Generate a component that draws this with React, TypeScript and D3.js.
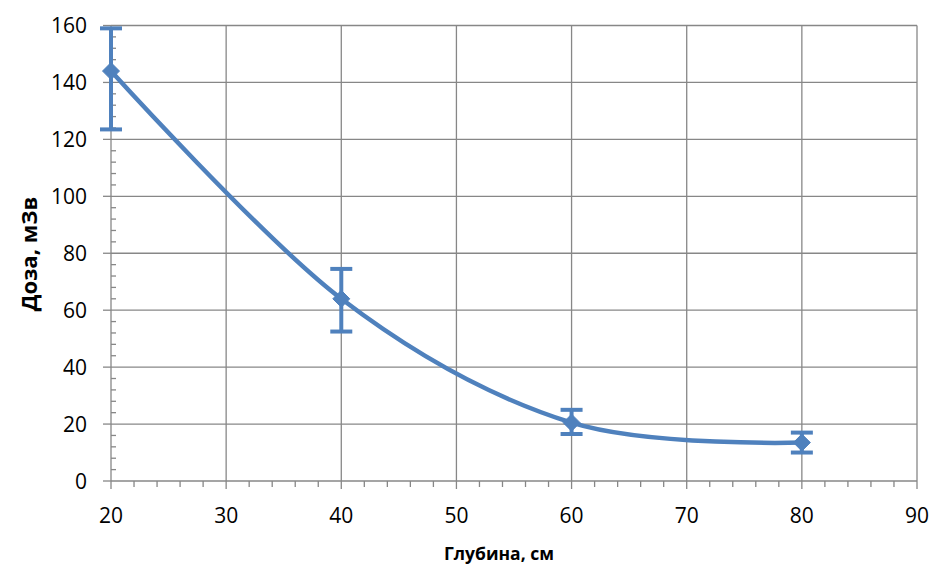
import React from "react";
import * as d3 from "d3";

const depth = [20, 40, 60, 80];
const dose = [144, 64, 20.5, 13.5];
const errLow = [123.5, 52.5, 16.5, 10];
const errHigh = [159, 74.5, 25, 17];
const xTicks = [20, 30, 40, 50, 60, 70, 80, 90];
const yTicks = [0, 20, 40, 60, 80, 100, 120, 140, 160];
const xTitle = "Глубина, см";
const yTitle = "Доза, мЗв";

const W = 934;
const H = 567;
const left = 111;
const right = 917;
const top = 25.5;
const bottom = 481;
const BLUE = "#4F81BD";
const GRID = "#878787";
const FONT = "'Open Sans', 'Liberation Sans', sans-serif";

export default function App() {
  const x = d3.scaleLinear().domain([20, 90]).range([left, right]);
  const y = d3.scaleLinear().domain([0, 160]).range([bottom, top]);

  const pts = depth.map((d, i) => [d, dose[i]] as [number, number]);
  const line = d3
    .line<[number, number]>()
    .x((d) => x(d[0]))
    .y((d) => y(d[1]))
    .curve(d3.curveCardinal.tension(0));

  const xMinor = d3.range(20, 90.01, 2).filter((v) => Math.round(v) % 10 !== 0);
  const yMinor = d3.range(0, 160.01, 4).filter((v) => Math.round(v) % 20 !== 0);

  const diamond = (cx: number, cy: number, r: number) =>
    `M${cx},${cy - r}L${cx + r},${cy}L${cx},${cy + r}L${cx - r},${cy}Z`;

  return (
    <svg
      width={W}
      height={H}
      style={{ position: "absolute", left: 0, top: 0, background: "#fff" }}
    >
      <rect x={0} y={0} width={W} height={H} fill="#fff" />
      {yTicks.map((t) => (
        <line key={"gy" + t} x1={left} x2={right} y1={y(t)} y2={y(t)} stroke={GRID} strokeWidth={1.3} />
      ))}
      {xTicks.map((t) => (
        <line key={"gx" + t} x1={x(t)} x2={x(t)} y1={top} y2={bottom} stroke={GRID} strokeWidth={1.3} />
      ))}
      {yTicks.map((t) => (
        <line key={"ty" + t} x1={left - 8} x2={left} y1={y(t)} y2={y(t)} stroke={GRID} strokeWidth={1.3} />
      ))}
      {yMinor.map((t) => (
        <line key={"my" + t} x1={left} x2={left + 5} y1={y(t)} y2={y(t)} stroke={GRID} strokeWidth={1.3} />
      ))}
      {xTicks.map((t) => (
        <line key={"tx" + t} x1={x(t)} x2={x(t)} y1={bottom} y2={bottom + 8} stroke={GRID} strokeWidth={1.3} />
      ))}
      {xMinor.map((t) => (
        <line key={"mx" + t} x1={x(t)} x2={x(t)} y1={bottom} y2={bottom + 6} stroke={GRID} strokeWidth={1.3} />
      ))}
      {yTicks.map((t) => (
        <text
          key={"ly" + t}
          x={87}
          y={y(t)}
          dy="0.36em"
          textAnchor="end"
          fontFamily={FONT}
          fontSize={21}
          fill="#000"
        >
          {t}
        </text>
      ))}
      {xTicks.map((t) => (
        <text
          key={"lx" + t}
          x={x(t)}
          y={523}
          textAnchor="middle"
          fontFamily={FONT}
          fontSize={21}
          fill="#000"
        >
          {t}
        </text>
      ))}
      <text
        x={499}
        y={560}
        textAnchor="middle"
        fontFamily={FONT}
        fontWeight="bold"
        fontSize={17.5}
        fill="#000"
      >
        {xTitle}
      </text>
      <text
        transform={`translate(37,${254}) rotate(-90)`}
        textAnchor="middle"
        fontFamily={FONT}
        fontWeight="bold"
        fontSize={22}
        fill="#000"
      >
        {yTitle}
      </text>
      <path d={line(pts) || ""} fill="none" stroke={BLUE} strokeWidth={4.5} strokeLinejoin="round" strokeLinecap="round" />
      {depth.map((d, i) => (
        <g key={"e" + d} stroke={BLUE} strokeWidth={4}>
          <line x1={x(d)} x2={x(d)} y1={y(errLow[i])} y2={y(errHigh[i])} />
          <line x1={x(d) - 11} x2={x(d) + 11} y1={y(errLow[i])} y2={y(errLow[i])} />
          <line x1={x(d) - 11} x2={x(d) + 11} y1={y(errHigh[i])} y2={y(errHigh[i])} />
        </g>
      ))}
      {depth.map((d, i) => (
        <path key={"m" + d} d={diamond(x(d), y(dose[i]), 8.5)} fill={BLUE} stroke={BLUE} strokeWidth={1} />
      ))}
    </svg>
  );
}
